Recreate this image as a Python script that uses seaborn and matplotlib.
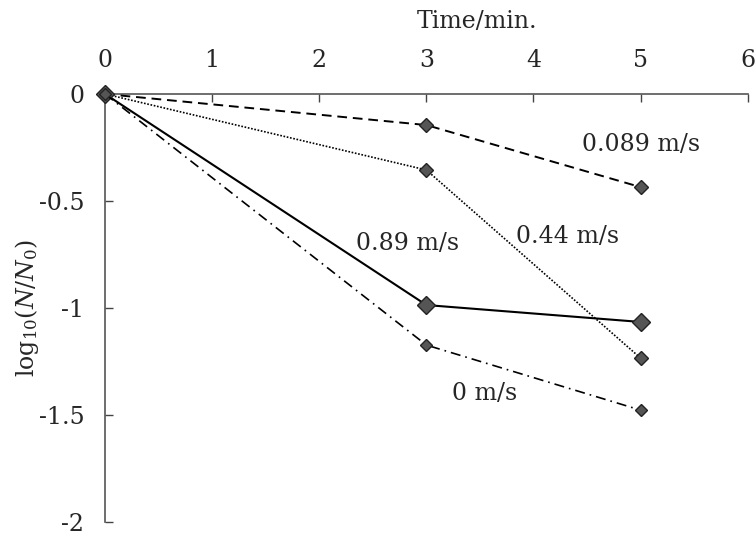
import matplotlib
matplotlib.use("Agg")
import matplotlib.pyplot as plt
import seaborn as sns
import pandas as pd

time_min = [0, 3, 5]
v_0089 = [0.0, -0.145, -0.435]
v_044 = [0.0, -0.355, -1.234]
v_089 = [0.0, -0.986, -1.065]
v_0 = [0.0, -1.173, -1.477]
series_labels = ["0.089 m/s", "0.44 m/s", "0.89 m/s", "0 m/s"]
x_ticks = [0, 1, 2, 3, 4, 5, 6]
y_ticks = [0, -0.5, -1, -1.5, -2]
y_ticklabels = ["0", "-0.5", "-1", "-1.5", "-2"]

sns.set_style("white")
plt.rcParams["font.family"] = ["DejaVu Serif"]
plt.rcParams["mathtext.fontset"] = "dejavuserif"

fig = plt.figure(figsize=(7.56, 5.36), dpi=100)
ax = fig.add_axes([0.139, 0.026, 0.850, 0.7986])

styles = [
    (v_0089, (0, (5, 3)), 7, 1.4),
    (v_044, (0, (1, 1)), 7, 1.2),
    (v_089, "-", 9, 1.5),
    (v_0, (0, (6, 3, 1, 3)), 6, 1.2),
]
for vals, ls, ms, lw in styles:
    df = pd.DataFrame({"t": time_min, "v": vals})
    sns.lineplot(data=df, x="t", y="v", ax=ax, color="black", linestyle=ls,
                 linewidth=lw, marker="D", markersize=ms,
                 markerfacecolor="#555555", markeredgecolor="#222222",
                 markeredgewidth=1.0, zorder=3, clip_on=False)

label_pos = [(5.0, -0.238), (4.32, -0.668), (2.82, -0.70), (3.54, -1.397)]
for lab, (lx, ly) in zip(series_labels, label_pos):
    ax.text(lx, ly, lab, ha="center", va="center", fontsize=17)

ax.set_xlim(0, 6)
ax.set_ylim(-2, 0)
ax.xaxis.tick_top()
ax.set_xticks(x_ticks)
ax.set_xticklabels([str(t) for t in x_ticks])
ax.set_yticks(y_ticks)
ax.set_yticklabels(y_ticklabels)
ax.tick_params(axis="both", direction="in", length=6, width=1, color="#444444",
               labelsize=17)
ax.tick_params(axis="x", top=True, bottom=False, labeltop=True, labelbottom=False, pad=16)
ax.tick_params(axis="y", left=True, right=False, pad=15)

for side in ["right", "bottom"]:
    ax.spines[side].set_visible(False)
for side in ["top", "left"]:
    ax.spines[side].set_color("#555555")
    ax.spines[side].set_linewidth(1.2)

ax.set_xlabel("Time/min.", fontsize=17)
ax.xaxis.set_label_position("top")
ax.xaxis.set_label_coords(0.579, 1.154)
ax.set_ylabel(r"$\mathrm{log}_{10}(N/N_0)$", fontsize=17)
ax.yaxis.set_label_coords(-0.100, 0.5)

fig.savefig("out.png", dpi=100)
